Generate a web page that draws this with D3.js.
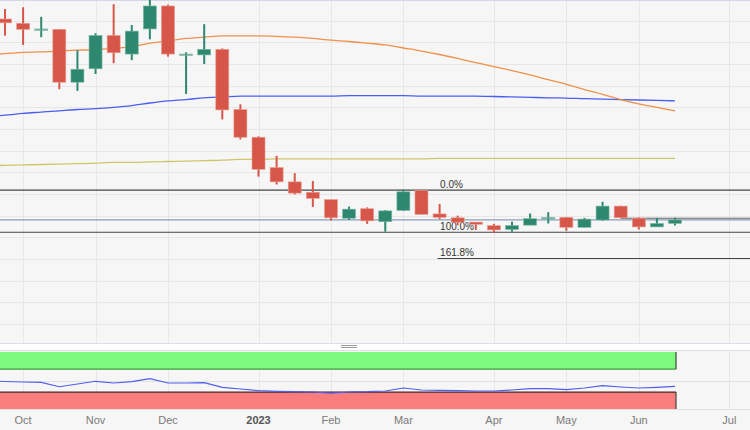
<!DOCTYPE html>
<html>
<head>
<meta charset="utf-8">
<script src="https://cdn.jsdelivr.net/npm/d3@7"></script>
<style>
    html, body { margin: 0; padding: 0; background: #f6f6f6; }
    svg { display: block; font-family: "Liberation Sans", Arial, sans-serif; }
</style>
</head>
<body>
<div class="chart"></div>
<script>
(function () {
    'use strict';

    // weekly candles, index 0..37
    const opens  = [7.04, 6.94, 6.78, 6.80, 5.58, 5.89, 6.66, 6.23, 6.81, 7.34, 6.21, 6.21, 6.34, 4.95, 4.31, 3.61, 3.28, 3.04, 2.87, 2.44,
                    2.66, 2.36, 2.62, 3.08, 2.54, 2.45, 2.35, 2.27, 2.18, 2.28, 2.42, 2.46, 2.23, 2.40, 2.72, 2.44, 2.24, 2.32];
    const highs  = [7.27, 7.31, 7.09, 6.81, 6.32, 6.71, 7.38, 6.90, 7.55, 7.37, 6.27, 6.92, 6.36, 5.07, 4.33, 3.88, 3.48, 3.30, 2.87, 2.71,
                    2.69, 2.63, 3.10, 3.09, 2.77, 2.50, 2.35, 2.31, 2.36, 2.55, 2.58, 2.47, 2.45, 2.82, 2.73, 2.46, 2.45, 2.45];
    const lows   = [6.65, 6.44, 6.62, 5.42, 5.38, 5.77, 6.02, 6.09, 6.57, 6.17, 5.31, 6.00, 4.72, 4.26, 3.40, 3.22, 2.99, 2.70, 2.39, 2.40,
                    2.31, 2.13, 2.61, 2.53, 2.42, 2.28, 2.17, 2.11, 2.13, 2.28, 2.32, 2.15, 2.23, 2.38, 2.45, 2.18, 2.24, 2.27];
    const closes = [6.95, 6.80, 6.81, 5.58, 5.88, 6.66, 6.26, 6.76, 7.34, 6.23, 6.23, 6.34, 4.94, 4.31, 3.57, 3.28, 3.02, 2.90, 2.45, 2.65,
                    2.38, 2.61, 3.05, 2.53, 2.46, 2.35, 2.30, 2.17, 2.27, 2.43, 2.46, 2.23, 2.42, 2.72, 2.45, 2.24, 2.32, 2.40];

    // moving averages, index -1..37
    const maOrange = [6.22, 6.24, 6.27, 6.28, 6.30, 6.32, 6.33, 6.36, 6.40, 6.48, 6.53, 6.59, 6.62, 6.65, 6.65, 6.65, 6.64, 6.62, 6.59, 6.55,
                      6.52, 6.48, 6.44, 6.37, 6.30, 6.22, 6.13, 6.03, 5.94, 5.85, 5.75, 5.64, 5.53, 5.41, 5.30, 5.18, 5.08, 5.00, 4.92];
    const maBlue   = [4.79, 4.82, 4.86, 4.89, 4.92, 4.95, 4.97, 5.00, 5.04, 5.10, 5.15, 5.18, 5.22, 5.24, 5.26, 5.26, 5.26, 5.26, 5.26, 5.26,
                      5.27, 5.27, 5.27, 5.27, 5.26, 5.26, 5.26, 5.26, 5.25, 5.24, 5.23, 5.22, 5.215, 5.20, 5.19, 5.18, 5.17, 5.16, 5.15];
    const maOlive  = [3.65, 3.66, 3.67, 3.68, 3.69, 3.70, 3.71, 3.73, 3.73, 3.74, 3.75, 3.76, 3.77, 3.78, 3.80, 3.80, 3.81, 3.81, 3.81, 3.81,
                      3.81, 3.81, 3.81, 3.81, 3.81, 3.82, 3.82, 3.82, 3.82, 3.82, 3.82, 3.82, 3.82, 3.82, 3.82, 3.82, 3.82, 3.82, 3.82];

    // oscillator, index -1..37
    const rsi = [50, 48.5, 47.6, 47.1, 39.4, 44.2, 48.9, 45.9, 48.2, 53.4, 45.9, 45.9, 46.4, 38.4, 35.4, 32.5, 31.4, 30.7, 30.2, 28.4,
                 30.2, 30.7, 31.9, 37.2, 33.7, 33.2, 32.5, 31.9, 31.9, 33.7, 36, 36, 34.2, 37.2, 41.2, 38.9, 37.2, 38.4, 40.1];

    const monthLabels = ['Oct', 'Nov', 'Dec', '2023', 'Feb', 'Mar', 'Apr', 'May', 'Jun', 'Jul'];
    const monthIndex  = [1, 5, 9, 14, 18, 22, 27, 31, 35, 40];

    const fibLevels = [3.09, 2.115, 1.512];
    const fibLabels = ['0.0%', '100.0%', '161.8%'];
    const lastPrice = 2.40;
    const hLine = 2.44;

    const W = 750, H = 430;
    const mainBottom = 343;
    const subTop = 351, subBottom = 410;

    const red = '#d6574a', green = '#2e8870';

    const svg = d3.select('.chart').append('svg').attr('width', W).attr('height', H);

    const x = d3.scaleLinear().domain([0, 37]).range([5, 675]);
    const y = d3.scaleLinear().domain([2.0, 7.0]).range([237.3, 20.7]);
    const yr = d3.scaleLinear().domain([0, 100]).range([409.3, 352]);

    svg.append('rect').attr('width', W).attr('height', H).attr('fill', '#f6f6f6');

    // grid
    const grid = svg.append('g').attr('class', 'grid');
    grid.selectAll('.hgrid').data(d3.range(-0.5, 8, 0.5).filter(function (p) {
        return y(p) > 2 && y(p) < mainBottom - 2;
    }))
        .enter().append('line').attr('class', 'hgrid')
        .attr('x1', 0).attr('x2', W)
        .attr('y1', function (d) { return Math.round(y(d)) + 0.5; })
        .attr('y2', function (d) { return Math.round(y(d)) + 0.5; })
        .attr('stroke', '#e7e7e7');
    grid.selectAll('.vgrid').data(monthIndex)
        .enter().append('line').attr('class', 'vgrid')
        .attr('x1', function (d) { return Math.round(x(d)) + 0.5; })
        .attr('x2', function (d) { return Math.round(x(d)) + 0.5; })
        .attr('y1', 0).attr('y2', subBottom)
        .attr('stroke', '#e7e7e7');

    svg.append('line').attr('x1', 0).attr('x2', W).attr('y1', 0.5).attr('y2', 0.5).attr('stroke', '#d3d8e6');

    // moving averages
    const maLine = d3.line()
        .x(function (d, i) { return x(i - 1); })
        .y(function (d) { return y(d); })
        .curve(d3.curveMonotoneX);
    [[maOlive, '#cfc56a'], [maBlue, '#4a5ef2'], [maOrange, '#f0904a']].forEach(function (m) {
        svg.append('path').datum(m[0]).attr('d', maLine)
            .attr('fill', 'none').attr('stroke', m[1]).attr('stroke-width', 1.3);
    });

    // fibonacci + horizontal lines
    svg.append('line').attr('x1', 0).attr('x2', W).attr('y1', y(lastPrice)).attr('y2', y(lastPrice))
        .attr('stroke', '#8d9cb8').attr('stroke-width', 1.3);
    svg.append('line').attr('x1', x(34)).attr('x2', W).attr('y1', y(hLine)).attr('y2', y(hLine))
        .attr('stroke', '#666').attr('stroke-width', 1.2);

    const fib = svg.append('g').attr('class', 'fib');
    fib.selectAll('line').data(fibLevels)
        .enter().append('line')
        .attr('x1', function (d, i) { return i === 2 ? x(24) - 2 : 0; })
        .attr('x2', W)
        .attr('y1', function (d) { return y(d); })
        .attr('y2', function (d) { return y(d); })
        .attr('stroke', '#444').attr('stroke-width', 1.1);
    fib.selectAll('text').data(fibLevels)
        .enter().append('text')
        .attr('x', x(24) + 0.5)
        .attr('y', function (d) { return y(d) - 2.5; })
        .text(function (d, i) { return fibLabels[i]; })
        .attr('fill', '#333').style('font-size', '10px');

    // candles
    const candles = svg.append('g').attr('class', 'candles').selectAll('g').data(opens.map(function (o, i) {
        return { i: i, o: o, h: highs[i], l: lows[i], c: closes[i] };
    }))
        .enter().append('g');

    candles.append('line')
        .attr('x1', function (d) { return x(d.i); })
        .attr('x2', function (d) { return x(d.i); })
        .attr('y1', function (d) { return y(d.h); })
        .attr('y2', function (d) { return y(d.l); })
        .attr('stroke', function (d) { return d.c >= d.o ? green : red; })
        .attr('stroke-width', 2);

    candles.append('rect')
        .attr('x', function (d) { return x(d.i) - 6.5; })
        .attr('width', 13)
        .attr('y', function (d) { return y(Math.max(d.o, d.c)); })
        .attr('height', function (d) { return Math.max(1.5, Math.abs(y(d.o) - y(d.c))); })
        .attr('fill', function (d) { return d.c >= d.o ? green : red; })
        .attr('fill-opacity', function (d) { return Math.abs(y(d.o) - y(d.c)) < 2 ? 0.6 : 1; })
        .attr('stroke', function (d) { return d.c >= d.o ? '#7fb8a6' : '#ec9c90'; })
        .attr('stroke-width', 0.6);

    // separator
    svg.append('rect').attr('x', 0).attr('y', mainBottom).attr('width', W).attr('height', subTop - mainBottom)
        .attr('fill', '#fff');
    svg.append('line').attr('x1', 0).attr('x2', W).attr('y1', mainBottom + 0.5).attr('y2', mainBottom + 0.5).attr('stroke', '#dcdfe8');
    svg.append('line').attr('x1', 0).attr('x2', W).attr('y1', subTop - 0.5).attr('y2', subTop - 0.5).attr('stroke', '#dcdfe8');
    [345.5, 347.5].forEach(function (hy) {
        svg.append('line').attr('x1', 341).attr('x2', 357).attr('y1', hy).attr('y2', hy).attr('stroke', '#9a9a9a');
    });

    // oscillator panel
    const sub = svg.append('g').attr('class', 'sub');
    sub.append('line').attr('x1', 0).attr('x2', W).attr('y1', Math.round(yr(50)) + 0.5).attr('y2', Math.round(yr(50)) + 0.5)
        .attr('stroke', '#e2e2e2');
    const bandRight = x(37) + 1;
    sub.append('rect').attr('x', 0).attr('y', yr(100)).attr('width', bandRight).attr('height', yr(70) - yr(100))
        .attr('fill', '#7dfa7d');
    sub.append('line').attr('x1', 0).attr('x2', bandRight).attr('y1', yr(70)).attr('y2', yr(70))
        .attr('stroke', '#3f9a3f').attr('stroke-width', 1.3);
    sub.append('rect').attr('x', 0).attr('y', yr(30)).attr('width', bandRight).attr('height', yr(0) - yr(30))
        .attr('fill', '#fa7d7d');
    sub.append('line').attr('x1', 0).attr('x2', bandRight).attr('y1', yr(30)).attr('y2', yr(30))
        .attr('stroke', '#4a2424').attr('stroke-width', 1.3);
    [[100, 70], [30, 0]].forEach(function (b) {
        sub.append('line').attr('x1', bandRight).attr('x2', bandRight).attr('y1', yr(b[0])).attr('y2', yr(b[1]))
            .attr('stroke', '#444').attr('stroke-width', 1.2);
    });
    sub.append('path').datum(rsi)
        .attr('d', d3.line()
            .x(function (d, i) { return x(i - 1); })
            .y(function (d) { return yr(d); }))
        .attr('fill', 'none').attr('stroke', '#4d5ff0').attr('stroke-width', 1.2);

    svg.append('line').attr('x1', 0).attr('x2', W).attr('y1', subBottom - 0.5).attr('y2', subBottom - 0.5).attr('stroke', '#e0e0e0');

    // x axis labels
    svg.append('g').attr('class', 'x-axis').selectAll('text').data(monthIndex)
        .enter().append('text')
        .attr('x', function (d) { return x(d); })
        .attr('y', 424)
        .attr('text-anchor', 'middle')
        .text(function (d, i) { return monthLabels[i]; })
        .attr('fill', function (d, i) { return monthLabels[i] === '2023' ? '#555' : '#7a7a7a'; })
        .style('font-weight', function (d, i) { return monthLabels[i] === '2023' ? 'bold' : 'normal'; })
        .style('font-size', '11px');
}());
</script>
</body>
</html>
